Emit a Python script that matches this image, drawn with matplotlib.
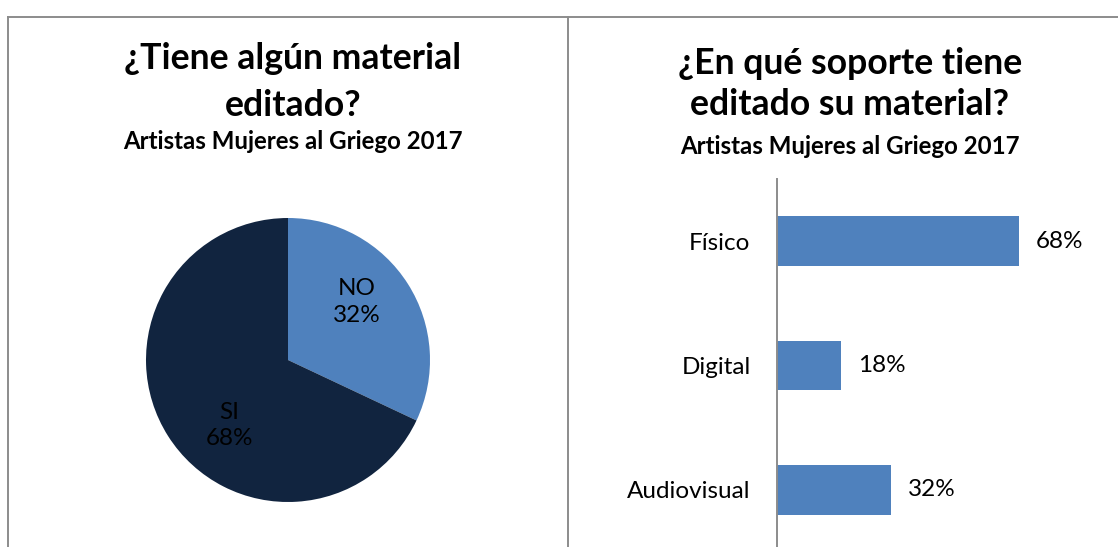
import matplotlib
matplotlib.use("Agg")
import matplotlib.pyplot as plt
from matplotlib.lines import Line2D

plt.rcParams['font.family'] = ['Lato', 'DejaVu Sans']

# Data
pie_labels = ["NO", "SI"]
pie_values = [32, 68]
bar_categories = ["Físico", "Digital", "Audiovisual"]
bar_values = [68, 18, 32]

title_left = ["¿Tiene algún material", "editado?"]
title_right = ["¿En qué soporte tiene", "editado su material?"]
subtitle = "Artistas Mujeres al Griego 2017"

light_blue = "#4F81BD"
dark_navy = "#11243F"
border_gray = "#8C8C8C"

W, H = 1118, 547
fig = plt.figure(figsize=(W / 100, H / 100), dpi=100)

def fx(px):
    return px / W

def fy(py):
    return 1 - py / H

# Borders
for (x0, y0, x1, y1) in [(8, 17, W, 17), (8, 17, 8, H), (568, 17, 568, H)]:
    fig.add_artist(Line2D([fx(x0), fx(x1)], [fy(y0), fy(y1)], color=border_gray,
                          linewidth=1.4, transform=fig.transFigure))

# Titles
TFS, SFS = 25.7, 17.3
for line, base in zip(title_left, [69, 116]):
    fig.text(fx(293), fy(base), line, ha="center", va="baseline", fontsize=TFS,
             fontweight="bold")
fig.text(fx(293), fy(149), subtitle, ha="center", va="baseline", fontsize=SFS,
         fontweight="bold")
for line, base in zip(title_right, [74, 115]):
    fig.text(fx(850), fy(base), line, ha="center", va="baseline", fontsize=TFS,
             fontweight="bold")
fig.text(fx(850), fy(154), subtitle, ha="center", va="baseline", fontsize=SFS,
         fontweight="bold")

# Pie
cx, cy, r = 288, 360, 142
ax_pie = fig.add_axes([fx(cx - r), fy(cy + r), fx(2 * r), (2 * r) / H])
wedges, _ = ax_pie.pie(pie_values, colors=[light_blue, dark_navy], startangle=90,
                       counterclock=False, radius=1.0,
                       wedgeprops=dict(linewidth=0))
ax_pie.set_xlim(-1, 1)
ax_pie.set_ylim(-1, 1)
ax_pie.set_aspect("auto")
ax_pie.axis("off")
label_pos = [(0.486, 0.41), (-0.415, -0.46)]
for lbl, val, (lx, ly) in zip(pie_labels, pie_values, label_pos):
    ax_pie.text(lx, ly, f"{lbl}\n{val}%", ha="center", va="center", fontsize=17.5,
                color="black", linespacing=1.32)

# Bar chart
axis_x = 777
px_per_unit = (1019 - 777) / 68.0
xmax = 80
top_px, bot_px = 179, 552
ax_bar = fig.add_axes([fx(axis_x), fy(bot_px), fx(xmax * px_per_unit), (bot_px - top_px) / H])
ypos = list(range(len(bar_categories)))
ax_bar.barh(ypos, bar_values, height=0.4, color=light_blue)
ax_bar.set_xlim(0, xmax)
ax_bar.set_ylim(len(bar_categories) - 0.5, -0.5)
ax_bar.set_yticks(ypos)
ax_bar.set_yticklabels(bar_categories, fontsize=17.5)
ax_bar.tick_params(axis="y", length=0, pad=19)
ax_bar.set_xticks([])
for s in ["top", "right", "bottom"]:
    ax_bar.spines[s].set_visible(False)
ax_bar.spines["left"].set_color(border_gray)
ax_bar.spines["left"].set_linewidth(1.4)
ax_bar.patch.set_alpha(0)
for y, v in zip(ypos, bar_values):
    ax_bar.annotate(f"{v}%", (v, y), xytext=(12, 0), textcoords="offset points",
                    ha="left", va="center", fontsize=17.5)

fig.savefig("out.png", dpi=100)
